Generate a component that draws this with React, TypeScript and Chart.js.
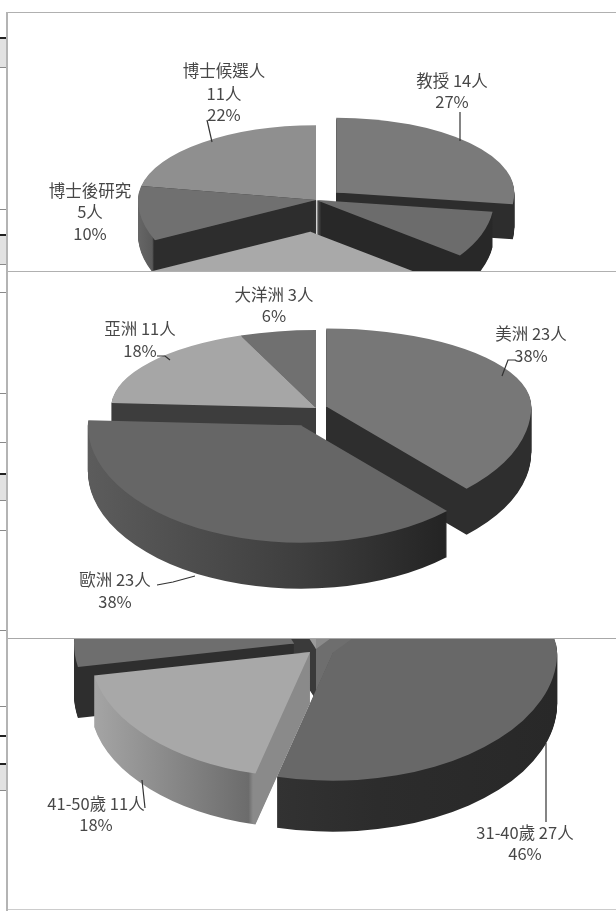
import React, { useEffect, useRef } from "react";
import { Chart, registerables } from "chart.js";

Chart.register(...registerables);

// Positions: share of people per slice, clockwise from twelve o'clock.
const positionNames = ["教授", "副教授", "講師", "博士後研究", "博士候選人"];
const positionPeople = [14, 4, 17, 5, 11];
const positionPercent = [27, 8, 33, 10, 22];

// Regions.
const regionNames = ["美洲", "歐洲", "亞洲", "大洋洲"];
const regionPeople = [23, 23, 11, 3];
const regionPercent = [38, 38, 18, 6];

// Age groups.
const ageNames = ["51歲以上", "31-40歲", "41-50歲", "30歲以下", "未填"];
const agePeople = [5, 27, 11, 14, 2];
const agePercent = [8, 46, 18, 24, 4];

type Stop = [number, string];
type Callout = { slice: number; lines: string[]; x: number[]; y: number[]; leader: number[][] };
type Panel = {
  top: number;
  height: number;
  names: string[];
  values: number[];
  cx: number;
  cy: number;
  radius: number;
  backTilt: number;
  frontTilt: number;
  depth: number;
  explode: number[];
  grow: number[];
  faces: string[];
  walls: Stop[][];
  callouts: Callout[];
};

const say = (names: string[], people: number[], pct: number[], i: number, stacked = false) =>
  stacked ? [names[i], `${people[i]}人`, `${pct[i]}%`] : [`${names[i]} ${people[i]}人`, `${pct[i]}%`];

const flat = (c: string): Stop[] => [[0, c], [1, c]];

const panels: Panel[] = [
  {
    top: 12,
    height: 259,
    names: positionNames,
    values: positionPercent,
    cx: 316,
    cy: 200,
    radius: 178,
    backTilt: 0.42,
    frontTilt: 0.53,
    depth: 35,
    explode: [27, 0, 60, 0, 0],
    grow: [1, 1, 1, 1, 1],
    faces: ["#7a7a7a", "#6c6c6c", "#a9a9a9", "#707070", "#8f8f8f"],
    walls: [
      flat("#2d2d2d"),
      flat("#282828"),
      flat("#6e6e6e"),
      [[0, "#666666"], [0.04, "#5a5a5a"], [0.045, "#2d2d2d"], [1, "#2d2d2d"]],
      flat("#333333"),
    ],
    callouts: [
      {
        slice: 0,
        lines: say(positionNames, positionPeople, positionPercent, 0),
        x: [452, 452],
        y: [81, 102],
        leader: [[460, 112], [460, 141]],
      },
      {
        slice: 4,
        lines: say(positionNames, positionPeople, positionPercent, 4, true),
        x: [224, 224, 224],
        y: [71, 94, 115],
        leader: [[207, 120], [212, 142]],
      },
      {
        slice: 3,
        lines: say(positionNames, positionPeople, positionPercent, 3, true),
        x: [90, 90, 90],
        y: [191, 212, 234],
        leader: [],
      },
    ],
  },
  {
    top: 271,
    height: 367,
    names: regionNames,
    values: regionPercent,
    cx: 316,
    cy: 408,
    radius: 205,
    backTilt: 0.38,
    frontTilt: 0.55,
    depth: 46,
    explode: [11, 35, 0, 0],
    grow: [1, 1.04, 1, 1],
    faces: ["#777777", "#666666", "#a6a6a6", "#707070"],
    walls: [
      flat("#2e2e2e"),
      [[0, "#5c5c5c"], [0.5, "#3e3e3e"], [0.85, "#232323"], [1, "#232323"]],
      flat("#3d3d3d"),
      flat("#3a3a3a"),
    ],
    callouts: [
      {
        slice: 0,
        lines: say(regionNames, regionPeople, regionPercent, 0),
        x: [531, 531],
        y: [334, 356],
        leader: [[515, 360], [508, 360], [502, 376]],
      },
      {
        slice: 1,
        lines: say(regionNames, regionPeople, regionPercent, 1),
        x: [115, 115],
        y: [580, 602],
        leader: [[157, 585], [173, 582], [195, 576]],
      },
      {
        slice: 2,
        lines: say(regionNames, regionPeople, regionPercent, 2),
        x: [140, 140],
        y: [329, 351],
        leader: [[157, 356], [165, 356], [170, 360]],
      },
      {
        slice: 3,
        lines: say(regionNames, regionPeople, regionPercent, 3),
        x: [274, 274],
        y: [295, 316],
        leader: [],
      },
    ],
  },
  {
    top: 638,
    height: 272,
    names: ageNames,
    values: agePercent,
    cx: 316,
    cy: 649,
    radius: 220,
    backTilt: 0.4,
    frontTilt: 0.57,
    depth: 51,
    explode: [0, 18, 8, 26, 0],
    grow: [1, 1.02, 1, 1, 1],
    faces: ["#8a8a8a", "#686868", "#a8a8a8", "#6e6e6e", "#9a9a9a"],
    walls: [
      flat("#6e6e6e"),
      [[0, "#3c3c3c"], [0.6, "#2c2c2c"], [1, "#282828"]],
      [[0, "#a6a6a6"], [0.36, "#6c6c6c"], [0.37, "#8a8a8a"], [1, "#8a8a8a"]],
      flat("#2e2e2e"),
      flat("#3a3a3a"),
    ],
    callouts: [
      {
        slice: 2,
        lines: say(ageNames, agePeople, agePercent, 2),
        x: [96, 96],
        y: [804, 825],
        leader: [[145, 808], [142, 780]],
      },
      {
        slice: 1,
        lines: say(ageNames, agePeople, agePercent, 1),
        x: [525, 525],
        y: [833, 854],
        leader: [[546, 822], [546, 743]],
      },
    ],
  },
];

// Edge of the neighbouring table that shows along the left margin.
const marginRules: [number, number, string][] = [
  [37, 2, "#222222"], [67, 1, "#8a8a8a"], [209, 1, "#8a8a8a"], [234, 2, "#222222"],
  [264, 1, "#8a8a8a"], [292, 1, "#8a8a8a"], [393, 1, "#8a8a8a"], [442, 1, "#8a8a8a"],
  [473, 2, "#222222"], [500, 1, "#8a8a8a"], [530, 1, "#8a8a8a"], [630, 1, "#8a8a8a"],
  [706, 1, "#8a8a8a"], [735, 2, "#222222"], [763, 2, "#222222"], [790, 1, "#8a8a8a"],
];
const marginBoxes: [number, number][] = [[38, 29], [235, 29], [474, 26], [764, 26]];

const tiltedPie = {
  id: "tiltedPie",
  // Replaces the flat arcs with a raised, foreshortened version of the same elements.
  beforeDatasetsDraw(chart: any, _args: any, opts: any) {
    const p: Panel = opts.panel;
    const ctx: CanvasRenderingContext2D = chart.ctx;
    const arcs: any[] = chart.getDatasetMeta(0).data;
    const order = arcs
      .map((a, i) => ({ a, i, mid: (a.startAngle + a.endAngle) / 2 }))
      .sort((m, n) => Math.sin(m.mid) - Math.sin(n.mid));

    const paint = (arc: any, fill: any, ox: number, oy: number, grow: number) => {
      const halves: [number, number, number][] = [
        [p.backTilt, -3000, 3000.5],
        [p.frontTilt, -0.5, 3000],
      ];
      const saved = arc.options;
      arc.options = {
        backgroundColor: fill,
        borderColor: "transparent",
        borderWidth: 0,
        borderRadius: 0,
        offset: 0,
        spacing: 0,
        borderAlign: "center",
        circular: true,
      };
      for (const [tilt, y, h] of halves) {
        ctx.save();
        ctx.translate(ox, oy);
        ctx.beginPath();
        ctx.rect(-3000, y, 6000, h);
        ctx.clip();
        ctx.scale(grow, tilt * grow);
        ctx.translate(-arc.x, -arc.y);
        arc.draw(ctx);
        ctx.restore();
      }
      arc.options = saved;
    };

    ctx.save();
    ctx.translate(0, -p.top);
    for (const { a, i, mid } of order) {
      const s = Math.sin(mid);
      const ox = p.cx + Math.cos(mid) * p.explode[i];
      const oy = p.cy + s * p.explode[i] * (s < 0 ? p.backTilt : p.frontTilt);
      const r = a.outerRadius;
      const g = ctx.createLinearGradient(a.x - r, 0, a.x + r, 0);
      for (const [at, c] of p.walls[i]) g.addColorStop(at, c);
      for (let t = p.depth; t >= 1; t--) paint(a, g, ox, oy + t, p.grow[i]);
      paint(a, p.faces[i], ox, oy, p.grow[i]);
    }
    ctx.restore();
    return false;
  },
  // Callout text and its leader lines.
  afterDraw(chart: any, _args: any, opts: any) {
    const p: Panel = opts.panel;
    const ctx: CanvasRenderingContext2D = chart.ctx;
    ctx.save();
    ctx.translate(0, -p.top);
    ctx.font = '16.5px "Noto Sans CJK TC"';
    ctx.fillStyle = "#474747";
    ctx.strokeStyle = "#333333";
    ctx.lineWidth = 1.2;
    ctx.textAlign = "center";
    ctx.textBaseline = "middle";
    for (const c of p.callouts) {
      c.lines.forEach((line, n) => ctx.fillText(line, c.x[n], c.y[n]));
      if (c.leader.length) {
        ctx.beginPath();
        c.leader.forEach(([x, y], n) => (n ? ctx.lineTo(x, y) : ctx.moveTo(x, y)));
        ctx.stroke();
      }
    }
    ctx.restore();
  },
};

function TiltedPie({ panel }: { panel: Panel }) {
  const ref = useRef<HTMLCanvasElement>(null);
  useEffect(() => {
    const chart = new Chart(ref.current!, {
      type: "pie",
      data: {
        labels: panel.names,
        datasets: [{ data: panel.values, backgroundColor: panel.faces, borderWidth: 0 }],
      },
      options: {
        animation: false,
        responsive: false,
        radius: panel.radius,
        plugins: {
          legend: { display: false },
          tooltip: { enabled: false },
          tiltedPie: { panel },
        },
      } as any,
      plugins: [tiltedPie],
    });
    return () => chart.destroy();
  }, [panel]);
  return (
    <canvas
      ref={ref}
      width={616}
      height={panel.height}
      style={{ position: "absolute", left: 0, top: panel.top, width: 616, height: panel.height }}
    />
  );
}

const bar = (left: number, top: number, width: number, height: number, background: string, key: string) => (
  <div key={key} style={{ position: "absolute", left, top, width, height, background }} />
);

export default function App() {
  return (
    <div
      style={{
        position: "absolute",
        left: 0,
        top: 0,
        width: 616,
        height: 911,
        overflow: "hidden",
        background: "#ffffff",
      }}
    >
      {marginBoxes.map(([y, h], i) => bar(0, y, 6, h, "#e2e2e2", `box${i}`))}
      {marginRules.map(([y, h, c], i) => bar(0, y, 6, h, c, `rule${i}`))}
      {panels.map((p, i) => (
        <TiltedPie key={i} panel={p} />
      ))}
      {bar(6, 12, 610, 1, "#b0b0b0", "t0")}
      {bar(6, 271, 610, 1, "#b0b0b0", "t1")}
      {bar(6, 638, 610, 1, "#a8a8a8", "t2")}
      {bar(6, 909, 610, 1, "#cccccc", "t3")}
      {bar(6, 12, 2, 899, "#b4b4b4", "l0")}
    </div>
  );
}
